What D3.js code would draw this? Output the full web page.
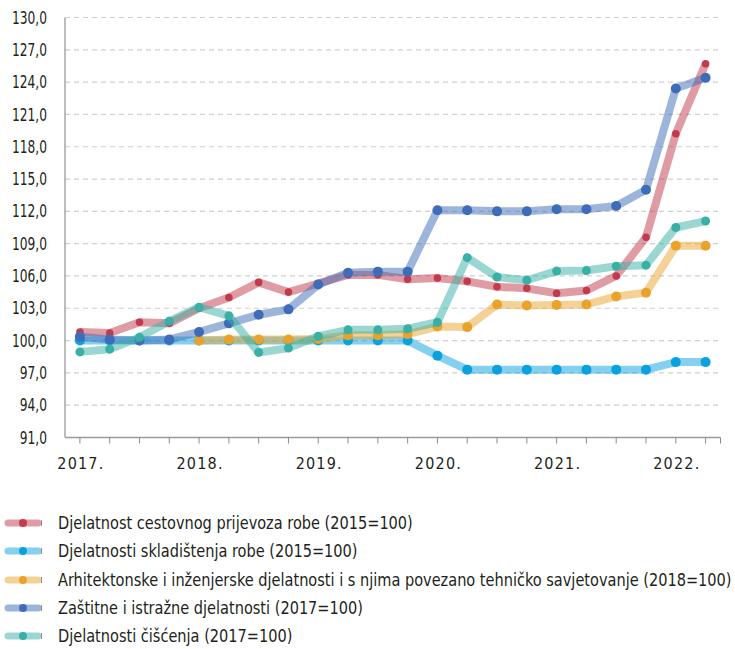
<!DOCTYPE html>
<html>
<head>
<meta charset="utf-8">
<script src="https://cdn.jsdelivr.net/npm/d3@7"></script>
<style>
html,body{margin:0;padding:0;background:#fff;}
svg{display:block;}
text{font-family:"DejaVu Sans Condensed","DejaVu Sans","Noto Sans",sans-serif;fill:#231f20;}
</style>
</head>
<body>
<svg id="chart" width="735" height="649"></svg>
<script>
// ---- data ----
const quarters = [
  "2017Q1","2017Q2","2017Q3","2017Q4",
  "2018Q1","2018Q2","2018Q3","2018Q4",
  "2019Q1","2019Q2","2019Q3","2019Q4",
  "2020Q1","2020Q2","2020Q3","2020Q4",
  "2021Q1","2021Q2","2021Q3","2021Q4",
  "2022Q1","2022Q2"
];
const yearLabels = ["2017.","2018.","2019.","2020.","2021.","2022."];
const yearLabelQuarters = ["2017Q1","2018Q1","2019Q1","2020Q1","2021Q1","2022Q1"];
const yTicks = [91,94,97,100,103,106,109,112,115,118,121,124,127,130];

const seriesNames = [
  "Djelatnost cestovnog prijevoza robe (2015=100)",
  "Djelatnosti skladištenja robe (2015=100)",
  "Arhitektonske i inženjerske djelatnosti i s njima povezano tehničko savjetovanje (2018=100)",
  "Zaštitne i istražne djelatnosti (2017=100)",
  "Djelatnosti čišćenja (2017=100)"
];
const seriesColors = ["#c23a4c","#0aa2de","#e9a32c","#3e6cb8","#38b0a6"];

const cestovni = [100.8,100.7,101.7,101.6,103.0,104.0,105.4,104.5,105.3,106.1,106.1,105.7,105.8,105.5,105.0,104.85,104.4,104.65,106.0,109.6,119.2,125.7];
const skladistenje = [100.0,100.0,100.0,100.0,100.0,100.0,100.0,100.0,100.0,100.0,100.0,100.0,98.6,97.3,97.3,97.3,97.3,97.3,97.3,97.3,98.0,98.0];
const arhitektonske = [null,null,null,null,100.0,100.1,100.1,100.1,100.15,100.5,100.5,100.6,101.3,101.25,103.35,103.25,103.3,103.35,104.1,104.45,108.8,108.8];
const zastitne = [100.35,100.1,100.0,100.1,100.8,101.6,102.4,102.9,105.2,106.3,106.4,106.4,112.1,112.1,112.0,112.0,112.2,112.2,112.5,114.0,123.4,124.4];
const ciscenje = [98.95,99.2,100.3,101.8,103.1,102.3,98.9,99.3,100.4,101.0,101.0,101.1,101.7,107.7,105.9,105.6,106.45,106.5,106.9,107.0,110.5,111.1];

const seriesValues = [cestovni, skladistenje, arhitektonske, zastitne, ciscenje];
const dotRadius = [3.8,5,5,5,4.5];

// ---- layout ----
const svg = d3.select("#chart");
const mLeft = 65, mRight = 720.5, mTop = 17.5, mBottom = 437.5;

const x = d3.scaleBand().domain(quarters).range([mLeft, mRight]).padding(0);
const xc = q => x(q) + x.bandwidth()/2;
const y = d3.scaleLinear().domain([91,130]).range([mBottom, mTop]);

// gridlines
svg.append("g").selectAll("line")
  .data(yTicks.filter(t => t !== 91))
  .join("line")
  .attr("x1", mLeft).attr("x2", mRight - 2)
  .attr("y1", d => y(d)).attr("y2", d => y(d))
  .attr("stroke", "#d0d0d0").attr("stroke-width", 1.2)
  .attr("stroke-dasharray", "5,4");

// y labels (horizontally condensed to mimic the narrow face)
const yLab = svg.append("g").selectAll("text")
  .data(yTicks)
  .join("text")
  .attr("text-anchor", "end")
  .attr("font-size", 17)
  .attr("dy", "0.36em")
  .text(d => d3.format(".1f")(d).replace(".", ","));
let maxY = 0;
yLab.each(function(){ maxY = Math.max(maxY, this.getComputedTextLength()); });
const ySc = Math.min(1, 35 / maxY);
yLab.attr("transform", d => `translate(47,${y(d)}) scale(${ySc},1)`);

// axes lines
svg.append("line").attr("x1", mLeft).attr("x2", mLeft).attr("y1", mTop).attr("y2", mBottom)
  .attr("stroke", "#9a9a9a").attr("stroke-width", 1.3);
svg.append("line").attr("x1", mLeft).attr("x2", mRight).attr("y1", mBottom).attr("y2", mBottom)
  .attr("stroke", "#9a9a9a").attr("stroke-width", 1.3);

// x ticks
const tickPos = quarters.map(xc).concat([mRight]);
svg.append("g").selectAll("line")
  .data(tickPos)
  .join("line")
  .attr("x1", d => d).attr("x2", d => d)
  .attr("y1", mBottom).attr("y2", mBottom + 6)
  .attr("stroke", "#8a8a8a").attr("stroke-width", 1);

// x labels
svg.append("g").selectAll("text")
  .data(yearLabels)
  .join("text")
  .attr("x", (d,i) => xc(yearLabelQuarters[i]) + 1)
  .attr("y", 469)
  .attr("text-anchor", "middle")
  .attr("font-size", 16)
  .attr("letter-spacing", "1.2px")
  .text(d => d);

// series
seriesValues.forEach((vals, i) => {
  const pts = quarters.map((q, j) => ({q, v: vals[j]})).filter(p => p.v != null);
  const g = svg.append("g");
  g.append("path")
    .datum(pts)
    .attr("fill", "none")
    .attr("stroke", seriesColors[i])
    .attr("stroke-opacity", 0.5)
    .attr("stroke-width", 8)
    .attr("stroke-linejoin", "round")
    .attr("d", d3.line().x(p => xc(p.q)).y(p => y(p.v)));
  g.selectAll("circle")
    .data(pts)
    .join("circle")
    .attr("cx", p => xc(p.q))
    .attr("cy", p => y(p.v))
    .attr("r", dotRadius[i])
    .attr("fill", seriesColors[i]);
});

// legend
const legendY = [523, 551, 580, 608, 636];
const lg = svg.append("g");
const legTexts = [];
seriesNames.forEach((name, i) => {
  const ly = legendY[i];
  lg.append("line").attr("x1", 8).attr("x2", 38).attr("y1", ly).attr("y2", ly)
    .attr("stroke", seriesColors[i]).attr("stroke-opacity", 0.5)
    .attr("stroke-width", 7).attr("stroke-linecap", "round");
  lg.append("circle").attr("cx", 23).attr("cy", ly).attr("r", 4).attr("fill", seriesColors[i]);
  lg.append("line").attr("x1", 41.5).attr("x2", 41.5).attr("y1", ly - 3).attr("y2", ly + 3)
    .attr("stroke", "#777").attr("stroke-width", 0.8);
  legTexts.push(lg.append("text").attr("dy", "0.36em").attr("font-size", 18).text(name));
});
let maxL = 0;
legTexts.forEach(t => { maxL = Math.max(maxL, t.node().getComputedTextLength()); });
const lSc = Math.min(1, 674 / maxL);
legTexts.forEach((t, i) => t.attr("transform", `translate(58,${legendY[i]}) scale(${lSc},1)`));
</script>
</body>
</html>
